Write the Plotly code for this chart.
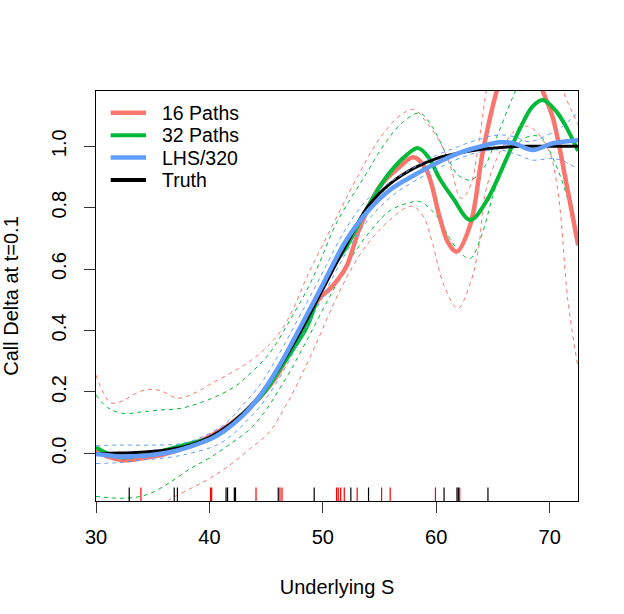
import plotly.graph_objects as go

# ---------------- data ----------------
truth_x = [30, 32, 34, 36, 38, 40, 42, 44, 46, 48, 50, 52, 54, 56, 58, 60, 62, 64, 66, 68, 70, 72.5]
truth_y = [0.0, 0.001, 0.004, 0.01, 0.024, 0.052, 0.1, 0.17, 0.27, 0.395, 0.535, 0.675, 0.805, 0.88, 0.928, 0.96, 0.978, 0.99, 0.997, 1.0, 1.0, 1.0]

lhs_x = [30, 31, 32.4, 34, 35.4, 37, 38.3, 40, 41.2, 43, 44.5, 46, 48, 50, 52, 54, 56, 58, 60, 62, 64, 65.6, 66.8, 68.5, 70.3, 72.5]
lhs_y = [-0.002, -0.006, -0.011, -0.008, -0.003, 0.008, 0.022, 0.045, 0.07, 0.125, 0.19, 0.275, 0.41, 0.55, 0.69, 0.79, 0.86, 0.905, 0.945, 0.978, 1.0, 1.013, 1.01, 0.988, 1.01, 1.02]
lhs_up_x = [30, 32, 35, 37.7, 40, 41.5, 43, 44.5, 46, 48, 50, 52, 54, 56, 58, 60, 62, 64, 65.6, 67, 68.2, 70, 70.9, 72.5]
lhs_up_y = [0.025, 0.027, 0.027, 0.033, 0.065, 0.1, 0.16, 0.225, 0.315, 0.45, 0.59, 0.73, 0.83, 0.885, 0.93, 0.97, 1.0, 1.025, 1.037, 1.03, 1.015, 1.04, 1.058, 1.11]
lhs_lo_x = [30, 32, 34, 36.8, 38.5, 40.65, 42, 43, 44.5, 46, 48, 50, 52, 54, 56, 58, 60, 62, 64, 65.6, 67, 68.5, 70, 71, 72.5]
lhs_lo_y = [-0.033, -0.03, -0.022, -0.011, 0.002, 0.027, 0.06, 0.095, 0.155, 0.235, 0.37, 0.51, 0.65, 0.76, 0.835, 0.885, 0.925, 0.96, 0.983, 0.988, 0.975, 0.955, 0.96, 0.955, 0.925]

p16_x = [30, 31, 32.4, 34.2, 36, 38.3, 40, 41.8, 43.6, 45.9, 47.5, 48.6, 49.7, 50.6, 51.3, 52.1, 53.3, 55, 56.8, 58, 59.1, 60.3, 61, 61.8, 63, 64.1, 65.5, 67, 68.5, 69.4, 70.3, 71.5, 72.5]
p16_y = [0.011, -0.01, -0.022, -0.015, -0.003, 0.025, 0.055, 0.095, 0.15, 0.25, 0.36, 0.434, 0.505, 0.535, 0.565, 0.61, 0.738, 0.868, 0.934, 0.964, 0.925, 0.77, 0.69, 0.657, 0.744, 0.98, 1.2, 1.33, 1.28, 1.18, 1.09, 0.874, 0.68]
p16_up_x = [30, 31.3, 32.4, 33.5, 34.5, 35.7, 37.2, 38.6, 40.3, 43.3, 45.3, 46.5, 47.5, 48.6, 50, 51.5, 53, 55, 56.8, 58, 59.1, 60.3, 61.2, 62.2, 63, 63.7, 64.4, 65.5, 67, 69, 70.5, 71.2, 72, 72.5]
p16_up_y = [0.255, 0.165, 0.172, 0.195, 0.208, 0.204, 0.18, 0.195, 0.23, 0.293, 0.355, 0.41, 0.48, 0.575, 0.68, 0.79, 0.897, 1.025, 1.10, 1.12, 1.08, 1.015, 0.94, 0.83, 0.87, 1.0, 1.18, 1.45, 1.6, 1.5, 1.28, 1.18, 1.11, 1.07]
p16_lo_x = [30, 33, 35, 36.5, 38.3, 40.1, 41.8, 43.6, 45.3, 46.8, 47.4, 49.2, 51.5, 53.6, 55.9, 57.8, 58.8, 59.7, 60.6, 61.9, 63, 63.7, 64.4, 65.9, 67.4, 68.5, 70, 70.6, 71, 71.6, 72.5]
p16_lo_y = [-0.32, -0.24, -0.19, -0.15, -0.115, -0.08, -0.038, 0.016, 0.07, 0.16, 0.2, 0.34, 0.53, 0.665, 0.76, 0.805, 0.775, 0.68, 0.555, 0.472, 0.554, 0.66, 0.86, 1.0, 1.064, 1.058, 0.98, 0.885, 0.765, 0.5, 0.28]

p32_x = [30, 31, 32.4, 34, 35.4, 37.7, 40.65, 43, 44.75, 46.3, 48.6, 49.7, 51.2, 52.1, 53.8, 55.6, 57.4, 58.4, 59.3, 60.3, 61.5, 63, 64.4, 66.2, 67.4, 68.5, 69.4, 70.6, 71.5, 72.5]
p32_y = [0.02, 0.0, -0.013, -0.005, 0.004, 0.027, 0.06, 0.13, 0.195, 0.28, 0.412, 0.52, 0.625, 0.673, 0.792, 0.9, 0.972, 0.994, 0.965, 0.895, 0.83, 0.76, 0.82, 0.96, 1.059, 1.13, 1.151, 1.113, 1.06, 0.985]
p32_up_x = [30, 31, 32.4, 34, 35.5, 37.5, 40.4, 42.4, 43.3, 45.3, 47.1, 48.6, 49.7, 51.2, 53.6, 55.6, 57.1, 58.55, 59.7, 60.9, 61.9, 63, 64.2, 65.3, 66.3, 67.1, 68.5, 70, 71.5, 72.5]
p32_up_y = [0.19, 0.15, 0.13, 0.135, 0.141, 0.147, 0.182, 0.222, 0.25, 0.326, 0.434, 0.532, 0.62, 0.75, 0.897, 1.016, 1.08, 1.108, 1.06, 0.973, 0.907, 0.89, 0.93, 1.026, 1.12, 1.19, 1.3, 1.34, 1.3, 1.22]
p32_lo_x = [30, 32, 33.5, 34.8, 36.5, 38.3, 40, 41.8, 43.6, 45.1, 46, 47, 48.6, 50.6, 52.4, 54.1, 55.9, 57.5, 58.55, 60, 61.2, 62.2, 63, 64, 65, 66, 66.8, 68, 69.2, 70.3, 71.5, 72.5]
p32_lo_y = [-0.14, -0.146, -0.143, -0.13, -0.095, -0.05, -0.015, 0.03, 0.08, 0.147, 0.2, 0.26, 0.369, 0.51, 0.63, 0.72, 0.79, 0.815, 0.82, 0.775, 0.70, 0.65, 0.635, 0.71, 0.84, 0.95, 0.993, 1.03, 1.03, 0.96, 0.84, 0.66]

rug_16 = [33.96, 40.1, 40.2, 44.11, 46.22, 46.4, 51.21, 51.36, 51.57, 51.89, 53.03, 55.18, 55.94, 59.93, 62.07]
rug_32 = [32.93, 36.9, 37.18, 41.47, 41.6, 42.2, 42.3, 46.07, 49.24, 52.47, 54.03, 60.69, 61.83, 61.95, 64.56]

legend_names = ["16 Paths", "32 Paths", "LHS/320", "Truth"]

x_ticks = [30, 40, 50, 60, 70]
y_ticks = [0.0, 0.2, 0.4, 0.6, 0.8, 1.0]
y_tick_text = ["0.0", "0.2", "0.4", "0.6", "0.8", "1.0"]

# ---------------- styling ----------------
RED = "#F8766D"
GREEN = "#00BA38"
BLUE = "#619CFF"
FONT = "Liberation Sans, Arial, sans-serif"
X_RANGE = [30, 72.5]
Y_RANGE = [-0.155, 1.18]

fig = go.Figure()


def band(x, y, color, name):
    fig.add_trace(go.Scatter(
        x=x, y=y, mode="lines", name=name, showlegend=False, hoverinfo="skip",
        line=dict(color=color, width=1, dash="4px,4px", shape="spline", smoothing=1.0),
    ))


def solid(x, y, color, width, name):
    fig.add_trace(go.Scatter(
        x=x, y=y, mode="lines", name=name, showlegend=False,
        line=dict(color=color, width=width, shape="spline", smoothing=1.0),
    ))


band(p16_up_x, p16_up_y, RED, "16 upper")
band(p16_lo_x, p16_lo_y, RED, "16 lower")
band(p32_up_x, p32_up_y, GREEN, "32 upper")
band(p32_lo_x, p32_lo_y, GREEN, "32 lower")
solid(p16_x, p16_y, RED, 4.5, legend_names[0])
solid(p32_x, p32_y, GREEN, 4, legend_names[1])
solid(truth_x, truth_y, "black", 3, legend_names[3])
band(lhs_up_x, lhs_up_y, BLUE, "LHS upper")
band(lhs_lo_x, lhs_lo_y, BLUE, "LHS lower")
solid(lhs_x, lhs_y, BLUE, 4.5, legend_names[2])

# rug marks along the bottom axis
rug_len = 0.033 * (Y_RANGE[1] - Y_RANGE[0])


def rug(vals, color):
    xs, ys = [], []
    for v in vals:
        xs += [v, v, None]
        ys += [Y_RANGE[0], Y_RANGE[0] + rug_len, None]
    fig.add_trace(go.Scatter(x=xs, y=ys, mode="lines", showlegend=False, hoverinfo="skip",
                             line=dict(color=color, width=1.2)))


rug(rug_32, "black")
rug(rug_16, "#FF0000")

# legend (R style, no box) drawn in paper coordinates
legend_colors = [RED, GREEN, BLUE, "black"]
legend_widths = [4.5, 4, 4.5, 4]
shapes, annotations = [], []
row_top, row_step = 0.947, 0.0547
for i, (nm, col, w) in enumerate(zip(legend_names, legend_colors, legend_widths)):
    yy = row_top - i * row_step
    shapes.append(dict(type="line", xref="paper", yref="paper", x0=0.0305, x1=0.1037, y0=yy, y1=yy,
                       line=dict(color=col, width=w)))
    annotations.append(dict(xref="paper", yref="paper", x=0.132, y=yy, xanchor="left", yanchor="middle",
                            text=nm, showarrow=False, font=dict(family=FONT, size=19.5, color="black")))

axis_common = dict(
    showgrid=False, zeroline=False, showline=True, linecolor="black", linewidth=1,
    mirror=True, ticks="outside", ticklen=11, tickcolor="#333333", tickwidth=1,
    tickfont=dict(family=FONT, size=20, color="black"), automargin=False,
)

fig.update_layout(
    width=624, height=614,
    margin=dict(l=96, r=46, t=91, b=113, pad=0, autoexpand=False),
    paper_bgcolor="white", plot_bgcolor="white",
    font=dict(family=FONT, size=20, color="black"),
    xaxis=dict(range=X_RANGE, tickvals=x_ticks, ticklabelstandoff=7,
               title=dict(text="Underlying S", font=dict(size=20), standoff=32), **axis_common),
    yaxis=dict(range=Y_RANGE, tickvals=y_ticks, ticktext=y_tick_text, tickangle=-90, ticklabelstandoff=10,
               title=dict(text="Call Delta at t=0.1", font=dict(size=20), standoff=24), **axis_common),
    shapes=shapes, annotations=annotations,
    showlegend=False,
)

fig.write_html("out.html", config={"displayModeBar": False},
               post_script="document.body.style.margin='0';")
